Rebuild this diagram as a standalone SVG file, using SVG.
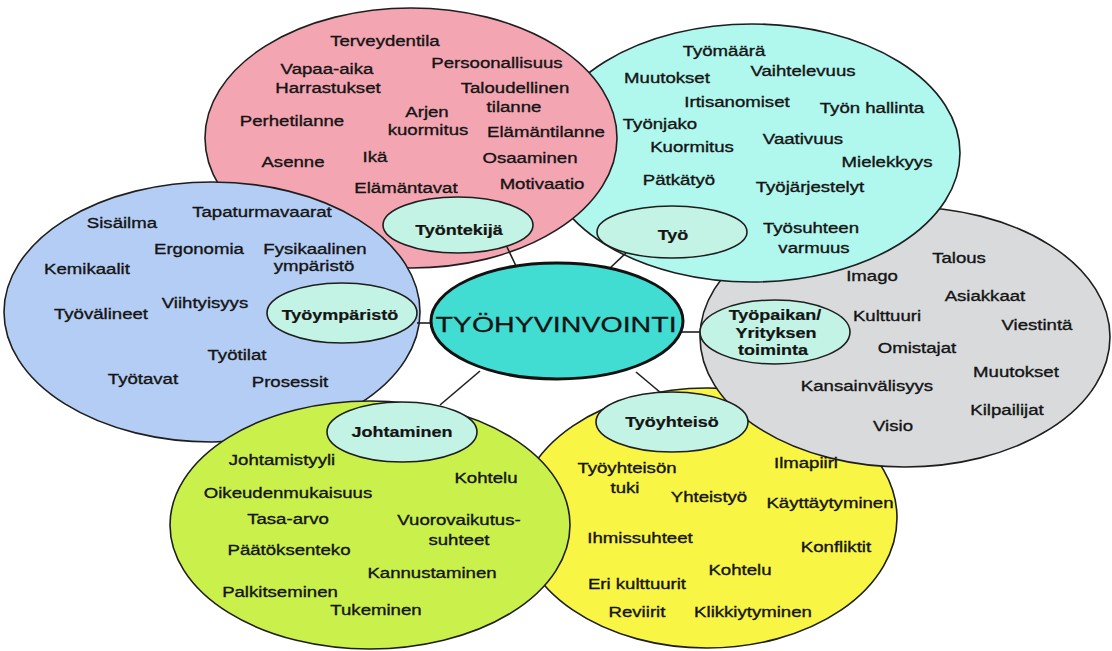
<svg xmlns="http://www.w3.org/2000/svg" width="1112" height="651" viewBox="0 0 1112 651">
<style>
.big{stroke:#1e1e1e;stroke-width:1.6}
.lab{fill:#C3F3E4;stroke:#1e1e1e;stroke-width:1.6}
.t{font-family:"Liberation Sans",Arial,sans-serif;font-size:15.5px;fill:#141414;stroke:#141414;stroke-width:0.35;text-anchor:middle;transform-box:fill-box;transform-origin:center;transform:scaleX(1.2)}
.b{font-weight:bold;font-size:15px;stroke-width:0.2}
.c{font-size:22.5px;transform:scaleX(1.27);stroke-width:0.3}
.con line{stroke:#1e1e1e;stroke-width:1.6}
</style>
<rect width="1112" height="651" fill="#ffffff"/>
<g id="tyoyhteiso">
<ellipse class="big" cx="707" cy="518" rx="190" ry="130" fill="#F8F545"/>
</g>
<g id="tyopaikka">
<ellipse class="big" cx="905" cy="337" rx="205" ry="130" fill="#D8DADC"/>
</g>
<g id="tyo">
<ellipse class="big" cx="752" cy="153" rx="208" ry="129" fill="#B0F7EE"/>
</g>
<g id="tyontekija">
<ellipse class="big" cx="411" cy="138" rx="206" ry="130" fill="#F4A5B2"/>
</g>
<g id="tyoymparisto">
<ellipse class="big" cx="212" cy="312" rx="208" ry="130" fill="#B4CDF4"/>
</g>
<g id="johtaminen">
<ellipse class="big" cx="370" cy="525" rx="200" ry="124" fill="#C9F04B"/>
</g>
<g id="connectors" class="con">
<line x1="507" y1="247" x2="516" y2="266"/>
<line x1="626" y1="253" x2="610" y2="268"/>
<line x1="417" y1="323" x2="433" y2="323"/>
<line x1="682" y1="332" x2="701" y2="332"/>
<line x1="480" y1="371" x2="440" y2="405"/>
<line x1="636" y1="372" x2="661" y2="393"/>
</g>
<g id="center">
<ellipse cx="557" cy="321" rx="126" ry="58" fill="#41DDD2" stroke="#111" stroke-width="3"/>
<text class="t c" x="556" y="332">TYÖHYVINVOINTI</text>
</g>
<g id="label-tyontekija">
<ellipse class="lab" cx="458" cy="225" rx="75" ry="28"/>
<text class="t b" x="459" y="235">Työntekijä</text>
</g>
<g id="label-tyo">
<ellipse class="lab" cx="672" cy="232" rx="75" ry="26"/>
<text class="t b" x="673" y="240">Työ</text>
</g>
<g id="label-tyoymparisto">
<ellipse class="lab" cx="342" cy="313" rx="75" ry="30"/>
<text class="t b" x="340" y="320">Työympäristö</text>
</g>
<g id="label-tyopaikka">
<ellipse class="lab" cx="775" cy="332" rx="75" ry="32"/>
<text class="t b" x="775" y="320">Työpaikan/</text>
<text class="t b" x="776" y="338">Yrityksen</text>
<text class="t b" x="773" y="355">toiminta</text>
</g>
<g id="label-johtaminen">
<ellipse class="lab" cx="402" cy="432" rx="75" ry="30"/>
<text class="t b" x="402" y="437">Johtaminen</text>
</g>
<g id="label-tyoyhteiso">
<ellipse class="lab" cx="672" cy="422" rx="76" ry="30"/>
<text class="t b" x="672" y="427">Työyhteisö</text>
</g>
<g id="items-tyontekija">
<text class="t" x="385" y="46">Terveydentila</text>
<text class="t" x="327" y="74">Vapaa-aika</text>
<text class="t" x="497" y="68">Persoonallisuus</text>
<text class="t" x="328" y="93">Harrastukset</text>
<text class="t" x="515" y="93">Taloudellinen</text>
<text class="t" x="514" y="112">tilanne</text>
<text class="t" x="427" y="117">Arjen</text>
<text class="t" x="292" y="126">Perhetilanne</text>
<text class="t" x="428" y="135">kuormitus</text>
<text class="t" x="546" y="137">Elämäntilanne</text>
<text class="t" x="375" y="162">Ikä</text>
<text class="t" x="293" y="167">Asenne</text>
<text class="t" x="530" y="163">Osaaminen</text>
<text class="t" x="406" y="193">Elämäntavat</text>
<text class="t" x="542" y="189">Motivaatio</text>
</g>
<g id="items-tyo">
<text class="t" x="724" y="56">Työmäärä</text>
<text class="t" x="667" y="83">Muutokset</text>
<text class="t" x="803" y="76">Vaihtelevuus</text>
<text class="t" x="737" y="107">Irtisanomiset</text>
<text class="t" x="872" y="113">Työn hallinta</text>
<text class="t" x="660" y="129">Työnjako</text>
<text class="t" x="803" y="144">Vaativuus</text>
<text class="t" x="692" y="152">Kuormitus</text>
<text class="t" x="887" y="167">Mielekkyys</text>
<text class="t" x="679" y="185">Pätkätyö</text>
<text class="t" x="810" y="192">Työjärjestelyt</text>
<text class="t" x="811" y="233">Työsuhteen</text>
<text class="t" x="814" y="253">varmuus</text>
</g>
<g id="items-tyopaikka">
<text class="t" x="872" y="281">Imago</text>
<text class="t" x="959" y="263">Talous</text>
<text class="t" x="985" y="301">Asiakkaat</text>
<text class="t" x="887" y="321">Kulttuuri</text>
<text class="t" x="1037" y="330">Viestintä</text>
<text class="t" x="917" y="353">Omistajat</text>
<text class="t" x="1016" y="377">Muutokset</text>
<text class="t" x="867" y="391">Kansainvälisyys</text>
<text class="t" x="1007" y="415">Kilpailijat</text>
<text class="t" x="893" y="431">Visio</text>
</g>
<g id="items-tyoymparisto">
<text class="t" x="262" y="217">Tapaturmavaarat</text>
<text class="t" x="122" y="228">Sisäilma</text>
<text class="t" x="199" y="254">Ergonomia</text>
<text class="t" x="315" y="254">Fysikaalinen</text>
<text class="t" x="314" y="271">ympäristö</text>
<text class="t" x="87" y="274">Kemikaalit</text>
<text class="t" x="205" y="308">Viihtyisyys</text>
<text class="t" x="101" y="319">Työvälineet</text>
<text class="t" x="237" y="360">Työtilat</text>
<text class="t" x="143" y="384">Työtavat</text>
<text class="t" x="290" y="387">Prosessit</text>
</g>
<g id="items-johtaminen">
<text class="t" x="282" y="465">Johtamistyyli</text>
<text class="t" x="486" y="483">Kohtelu</text>
<text class="t" x="288" y="498">Oikeudenmukaisuus</text>
<text class="t" x="288" y="524">Tasa-arvo</text>
<text class="t" x="459" y="525">Vuorovaikutus-</text>
<text class="t" x="459" y="545">suhteet</text>
<text class="t" x="289" y="555">Päätöksenteko</text>
<text class="t" x="432" y="578">Kannustaminen</text>
<text class="t" x="280" y="597">Palkitseminen</text>
<text class="t" x="376" y="615">Tukeminen</text>
</g>
<g id="items-tyoyhteiso">
<text class="t" x="806" y="468">Ilmapiiri</text>
<text class="t" x="627" y="473">Työyhteisön</text>
<text class="t" x="625" y="493">tuki</text>
<text class="t" x="709" y="502">Yhteistyö</text>
<text class="t" x="830" y="508">Käyttäytyminen</text>
<text class="t" x="640" y="543">Ihmissuhteet</text>
<text class="t" x="836" y="552">Konfliktit</text>
<text class="t" x="740" y="575">Kohtelu</text>
<text class="t" x="637" y="589">Eri kulttuurit</text>
<text class="t" x="637" y="617">Reviirit</text>
<text class="t" x="753" y="617">Klikkiytyminen</text>
</g>
</svg>
